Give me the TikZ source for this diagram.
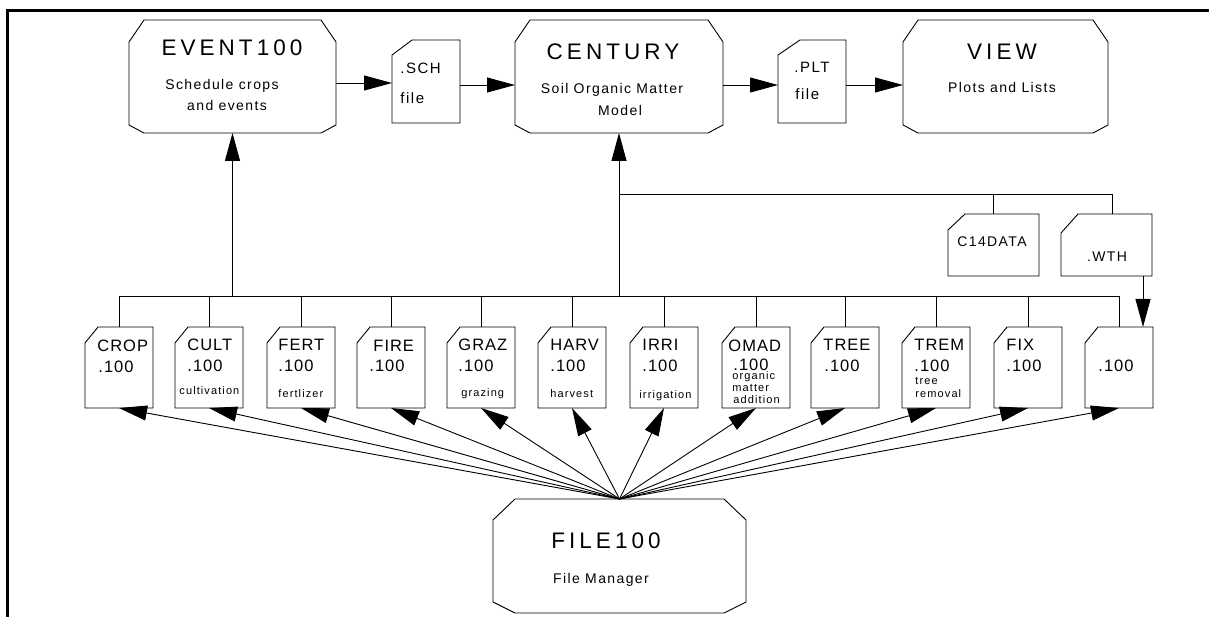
\documentclass[tikz,border=0pt]{standalone}
\usepackage{fontspec}
\setmainfont{Liberation Sans}
\newfontfamily\ttlfont[LetterSpace=18]{Liberation Sans}
\newfontfamily\subfont[LetterSpace=10]{Liberation Sans}
\newfontfamily\flfont[LetterSpace=6]{Liberation Sans}
\newfontfamily\smfont[LetterSpace=10]{Liberation Sans}
\usetikzlibrary{arrows.meta}
\newcommand{\drawprog}[5]{%
  \draw ([xshift=#2]#1.north west) -- ([xshift=-#2]#1.north east) -- ([yshift=-#3]#1.north east)
    -- ([yshift=#5]#1.south east) -- ([xshift=-#4]#1.south east) -- ([xshift=#4]#1.south west)
    -- ([yshift=#5]#1.south west) -- ([yshift=-#3]#1.north west) -- cycle;}
\newcommand{\drawfile}[3]{%
  \draw (#1.south west) -- (#1.south east) -- (#1.north east) -- ([xshift=#2]#1.north west)
    -- ([yshift=-#3]#1.north west) -- cycle;}
\begin{document}
\begin{tikzpicture}[x=1pt,y=-1pt,line width=0.9pt,
  box/.style={draw=none,inner sep=0pt,outer sep=0pt},
  ttl/.style={inner sep=0pt,anchor=base,font=\ttlfont\fontsize{22.5}{24}\selectfont},
  sub/.style={inner sep=0pt,anchor=base,font=\subfont\fontsize{14}{16}\selectfont},
  mid/.style={inner sep=0pt,anchor=base west,font=\subfont\fontsize{15}{17}\selectfont},
  fl/.style={inner sep=0pt,anchor=base west,font=\flfont\fontsize{16.5}{18}\selectfont},
  sm/.style={inner sep=0pt,anchor=base west,font=\smfont\fontsize{11}{12}\selectfont},
  arr/.style={-{Triangle[length=28pt,width=15pt]}}]
\useasboundingbox (0,0) rectangle (1209,617);
% frame
\draw[line width=3pt] (7.5,617) -- (7.5,10.7) -- (1209,10.7);

% program boxes
\node[box,minimum width=207pt,minimum height=113pt] (event) at (232.5,76.5) {};
\node[box,minimum width=208pt,minimum height=113pt] (century) at (619,76.5) {};
\node[box,minimum width=205pt,minimum height=113pt] (view) at (1005.5,76.5) {};
\node[box,minimum width=253pt,minimum height=114pt] (file) at (619.5,556) {};
\drawprog{event}{15pt}{22pt}{15pt}{8pt}
\drawprog{century}{15pt}{22pt}{15pt}{8pt}
\drawprog{view}{15pt}{22pt}{15pt}{8pt}
\drawprog{file}{22pt}{21pt}{22pt}{11pt}

\node[ttl] (eventT) at (232,56) {EVENT100};
\node[sub] (eventA) at (222,90) {Schedule crops};
\node[sub] (eventB) at (227,111) {and events};
\node[ttl] (centuryT) at (613,60) {CENTURY};
\node[sub] (centuryA) at (612,94) {Soil Organic Matter};
\node[sub] (centuryB) at (620,116) {Model};
\node[ttl] (viewT) at (1002,60) {VIEW};
\node[sub] (viewA) at (1002,93) {Plots and Lists};
\node[ttl] (fileT) at (606,548) {FILE100};
\node[sub] (fileA) at (601,583) {File Manager};

% upper files
\node[box,minimum width=68pt,minimum height=83pt] (sch) at (426,81.5) {};
\node[box,minimum width=68pt,minimum height=83pt] (plt) at (812,81.5) {};
\drawfile{sch}{20pt}{15pt}
\drawfile{plt}{22pt}{15pt}
\node[mid] (schA) at (400,74) {.SCH};
\node[mid] (schB) at (400,104) {file};
\node[mid] (pltA) at (794,73) {.PLT};
\node[mid] (pltB) at (795,100) {file};

\node[box,minimum width=91pt,minimum height=62pt] (c14) at (993.5,245) {};
\node[box,minimum width=91pt,minimum height=62pt] (wth) at (1106.5,245) {};
\drawfile{c14}{17pt}{16pt}
\drawfile{wth}{17pt}{19pt}
\node[sub] (c14A) at (992,247) {C14DATA};
\node[sub] (wthA) at (1107,262) {.WTH};

% lower files
\foreach \n/\x in {crop/85,cult/175,fert/267,fire/357,graz/447,harv/538,irri/630,omad/722,tree/811,trem/902,fix/994,dhun/1085}{
  \node[box,minimum width=68pt,minimum height=81pt] (\n) at (\x+34,367.5) {};
  \drawfile{\n}{13pt}{16pt}
}
\node[fl] (cropA) at (97,352) {CROP};  \node[fl] (cropB) at (98,372) {.100};
\node[fl] (cultA) at (187,350) {CULT}; \node[fl] (cultB) at (187,371) {.100};
\node[sm] (cultC) at (179,394) {cultivation};
\node[fl] (fertA) at (278,350) {FERT}; \node[fl] (fertB) at (278,371) {.100};
\node[sm] (fertC) at (278,397) {fertlizer};
\node[fl] (fireA) at (373,352) {FIRE}; \node[fl] (fireB) at (369,371) {.100};
\node[fl] (grazA) at (458,350) {GRAZ}; \node[fl] (grazB) at (458,371) {.100};
\node[sm] (grazC) at (461,396) {grazing};
\node[fl] (harvA) at (550,350) {HARV}; \node[fl] (harvB) at (550,371) {.100};
\node[sm] (harvC) at (550,397) {harvest};
\node[fl] (irriA) at (642,350) {IRRI}; \node[fl] (irriB) at (642,371) {.100};
\node[sm] (irriC) at (639,398) {irrigation};
\node[fl] (omadA) at (728,352) {OMAD}; \node[fl] (omadB) at (733,370) {.100};
\node[sm] (omadC) at (732,379) {organic};
\node[sm] (omadD) at (732,391) {matter};
\node[sm] (omadE) at (733,403) {addition};
\node[fl] (treeA) at (823,350) {TREE}; \node[fl] (treeB) at (824,371) {.100};
\node[fl] (tremA) at (914,350) {TREM}; \node[fl] (tremB) at (914,371) {.100};
\node[sm] (tremC) at (915,384) {tree};
\node[sm] (tremD) at (915,397) {removal};
\node[fl] (fixA) at (1006,350) {FIX}; \node[fl] (fixB) at (1006,371) {.100};
\node[fl] (dhunB) at (1098,371) {.100};

% top flow
\draw[arr] ([yshift=-6.5pt]event.east) -- ([yshift=-6.5pt]event.east -| sch.west);
\draw[arr] ([yshift=-3.5pt]sch.east) -- ([yshift=-3.5pt]sch.east -| century.west);
\draw[arr] ([yshift=-8.5pt]century.east) -- ([yshift=-8.5pt]century.east -| plt.west);
\draw[arr] ([yshift=-3.5pt]plt.east) -- ([yshift=-3.5pt]plt.east -| view.west);

% buses
\coordinate (bus) at (0,296);
\coordinate (ubus) at (0,194);
\draw (crop.north) -- (crop.north |- bus) -- (dhun.north |- bus) -- (dhun.north);
\foreach \n in {cult,fert,fire,graz,harv,irri,omad,tree,trem,fix}
  \draw (\n.north) -- (\n.north |- bus);
\draw[arr] (event.south |- bus) -- (event.south);
\draw[arr] (century.south |- bus) -- (century.south);
\draw (c14.north) -- (c14.north |- ubus);
\draw (century.south |- ubus) -- ([xshift=5.5pt]wth.north |- ubus) -- ([xshift=5.5pt]wth.north);
\draw[arr] ([xshift=36.5pt]wth.south) -- ([xshift=36.5pt]wth.south |- dhun.north);

% FILE100 fan
\foreach \n in {crop,cult,fert,fire,graz,harv,irri,omad,tree,trem,fix,dhun}
  \draw[arr] (file.north) -- (\n.south);
\end{tikzpicture}
\end{document}
